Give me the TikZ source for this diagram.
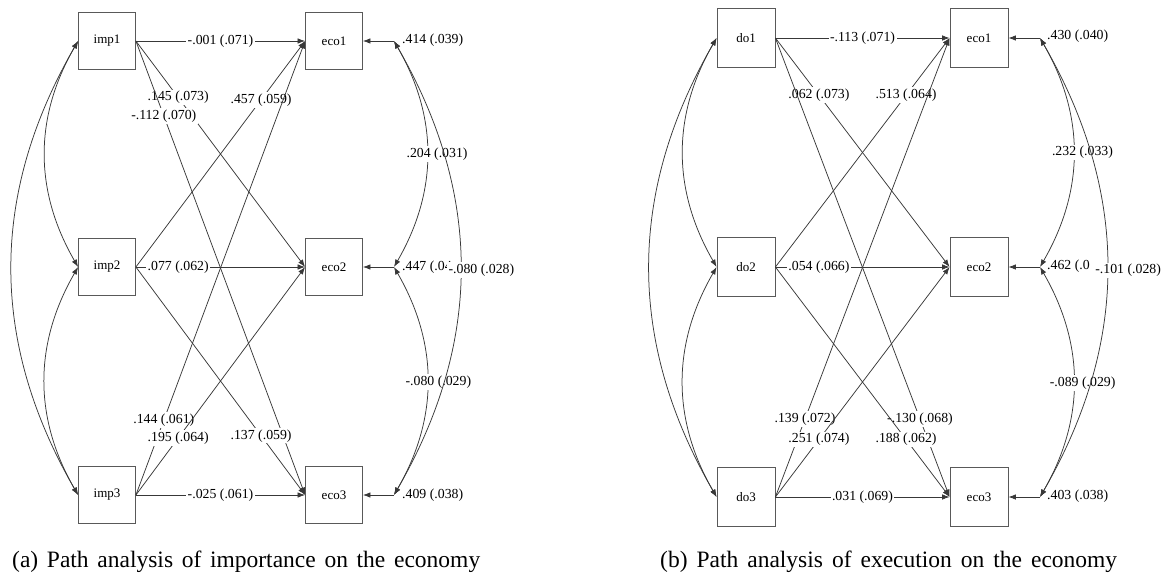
\documentclass[tikz,border=0pt]{standalone}
\usepackage{fontspec}
\setmainfont{Liberation Serif}
\usetikzlibrary{arrows.meta}
\begin{document}
\begin{tikzpicture}[x=1pt,y=-1pt,
 box/.style={draw=black!65, line width=0.8pt, minimum width=57pt, minimum height=57pt, inner sep=0pt, font=\fontsize{13}{15}\selectfont},
 boxb/.style={box, minimum width=58pt, minimum height=59pt},
 ln/.style={draw=black!78, line width=0.75pt},
 arr/.style={ln, -{Latex[length=7.5pt,width=5.5pt]}},
 cov/.style={ln, {Latex[length=7.5pt,width=5.5pt]}-{Latex[length=7.5pt,width=5.5pt]}},
 lab/.style={fill=white, inner sep=1.5pt, font=\fontsize{13.8}{15}\selectfont},
 captext/.style={font=\fontsize{23.5}{26}\selectfont, anchor=west, inner sep=0pt}
]
\useasboundingbox (0,0) rectangle (1169,575);

% ---------------- panel (a) ----------------
\node[box] (imp1) at (107,41) {imp1};
\node[box] (imp2) at (107,267) {imp2};
\node[box] (imp3) at (107,495) {imp3};
\node[box] (aeco1) at (334,41) {eco1};
\node[box] (aeco2) at (334,267) {eco2};
\node[box] (aeco3) at (334,495) {eco3};
\coordinate (ae1) at (394,41);
\coordinate (ae2) at (394,267);
\coordinate (ae3) at (394,495);

\draw[arr] (imp1.east) -- node[lab,pos=.5]{-.001 (.071)} (aeco1.west);
\draw[arr] (imp1.east) -- node[lab,pos=.25]{.145 (.073)} (aeco2.west);
\draw[arr] (imp2.east) -- node[lab,pos=.74]{.457 (.059)} (aeco1.west);
\draw[arr] (imp1.east) -- node[lab,pos=.165]{-.112 (.070)} (aeco3.west);
\draw[arr] (imp2.east) -- node[lab,pos=.74]{.137 (.059)} (aeco3.west);
\draw[arr] (imp3.east) -- node[lab,pos=.165]{.144 (.061)} (aeco1.west);
\draw[arr] (imp3.east) -- node[lab,pos=.25]{.195 (.064)} (aeco2.west);
\draw[arr] (imp2.east) -- node[lab,pos=.25]{.077 (.062)} (aeco2.west);
\draw[arr] (imp3.east) -- node[lab,pos=.5]{-.025 (.061)} (aeco3.west);

\draw[arr] (ae1) -- (aeco1.east);
\draw[arr] (ae2) -- (aeco2.east);
\draw[arr] (ae3) -- (aeco3.east);
\node[lab,anchor=west,xshift=6.5pt,yshift=1pt] (al1) at (ae1) {.414 (.039)};
\node[lab,anchor=west,xshift=6.5pt,yshift=0pt] (al2) at (ae2) {.447 (.04};
\node[lab,anchor=west,xshift=6.5pt,yshift=0pt] (al3) at (ae3) {.409 (.038)};

\draw[cov] (ae1) to[bend left=30] node[lab,xshift=10pt]{.204 (.031)} (ae2);
\draw[cov] (ae2) to[bend left=30] node[lab,xshift=11pt,yshift=-1pt]{-.080 (.029)} (ae3);
\draw[cov] (ae1) to[bend left=30] node[lab,xshift=21pt,yshift=-2pt]{-.080 (.028)} (ae3);

\draw[cov] (imp1.west) to[bend right=30] (imp2.west);
\draw[cov] (imp2.west) to[bend right=30] (imp3.west);
\draw[cov] (imp1.west) to[bend right=30] (imp3.west);

\node[captext] (capa) at (12,562) {\makebox[468pt][s]{(a) Path analysis of importance on the economy}};

% ---------------- panel (b) ----------------
\node[boxb] (do1) at (746,38) {do1};
\node[boxb] (do2) at (746,267) {do2};
\node[boxb] (do3) at (746,497) {do3};
\node[boxb] (beco1) at (979,38) {eco1};
\node[boxb] (beco2) at (979,267) {eco2};
\node[boxb] (beco3) at (979,497) {eco3};
\coordinate (be1) at (1040,38);
\coordinate (be2) at (1040,267);
\coordinate (be3) at (1040,497);

\draw[arr] (do1.east) -- node[lab,pos=.5]{-.113 (.071)} (beco1.west);
\draw[arr] (do1.east) -- node[lab,pos=.25]{.062 (.073)} (beco2.west);
\draw[arr] (do2.east) -- node[lab,pos=.75]{.513 (.064)} (beco1.west);
\draw[arr] (do1.east) -- node[lab,pos=.83]{-.130 (.068)} (beco3.west);
\draw[arr] (do2.east) -- node[lab,pos=.75]{.188 (.062)} (beco3.west);
\draw[arr] (do3.east) -- node[lab,pos=.17]{.139 (.072)} (beco1.west);
\draw[arr] (do3.east) -- node[lab,pos=.25]{.251 (.074)} (beco2.west);
\draw[arr] (do2.east) -- node[lab,pos=.25]{.054 (.066)} (beco2.west);
\draw[arr] (do3.east) -- node[lab,pos=.5]{.031 (.069)} (beco3.west);

\draw[arr] (be1) -- (beco1.east);
\draw[arr] (be2) -- (beco2.east);
\draw[arr] (be3) -- (beco3.east);
\node[lab,anchor=west,xshift=5.5pt,yshift=2pt] (bl1) at (be1) {.430 (.040)};
\node[lab,anchor=west,xshift=5.5pt,yshift=1pt] (bl2) at (be2) {.462 (.0};
\node[lab,anchor=west,xshift=5.5pt,yshift=1pt] (bl3) at (be3) {.403 (.038)};

\draw[cov] (be1) to[bend left=30] node[lab,xshift=9pt]{.232 (.033)} (be2);
\draw[cov] (be2) to[bend left=30] node[lab,xshift=9pt,yshift=-1pt]{-.089 (.029)} (be3);
\draw[cov] (be1) to[bend left=30] node[lab,xshift=21pt,yshift=-3pt]{-.101 (.028)} (be3);

\draw[cov] (do1.west) to[bend right=30] (do2.west);
\draw[cov] (do2.west) to[bend right=30] (do3.west);
\draw[cov] (do1.west) to[bend right=30] (do3.west);

\node[captext] (capb) at (660,562) {\makebox[457pt][s]{(b) Path analysis of execution on the economy}};
\end{tikzpicture}
\end{document}
